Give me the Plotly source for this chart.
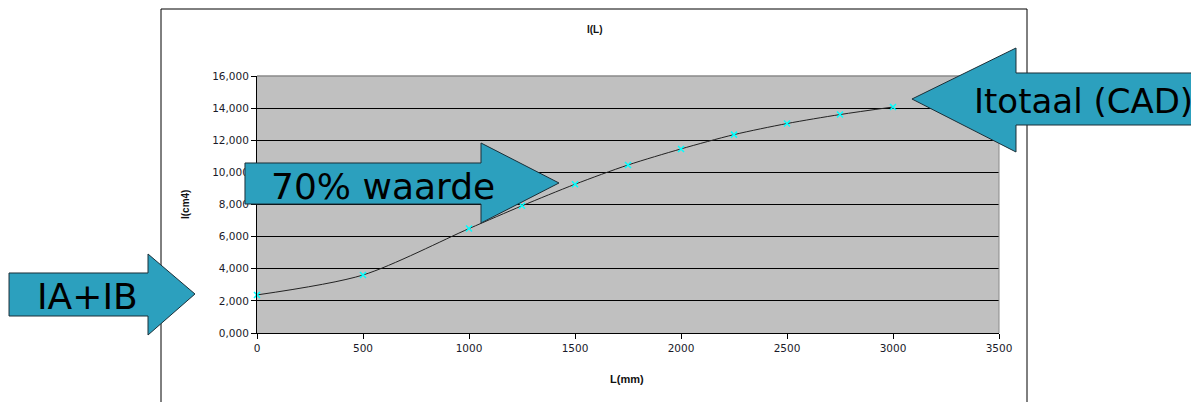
import plotly.graph_objects as go

# data
L_mm = [0, 500, 1000, 1250, 1500, 1750, 2000, 2250, 2500, 2750, 3000]
I_cm4 = [2370, 3610, 6500, 7920, 9260, 10460, 11460, 12350, 13040, 13600, 14070]
y_ticks = [0, 2000, 4000, 6000, 8000, 10000, 12000, 14000, 16000]
y_ticktext = [f"{v / 1000:.3f}".replace(".", ",") for v in y_ticks]
x_ticks = [0, 500, 1000, 1500, 2000, 2500, 3000, 3500]

# page puts the figure 8px in from the top-left corner
OFF = 8
W, H = 1199 - OFF, 402 - OFF
PL, PR, PT, PB = 257, 999, 76, 333  # plot area in window pixels


def px(x):
    return (x - PL) / (PR - PL)


def py(y):
    return (PB - y) / (PB - PT)


def arrow_path(pts):
    return "M " + " L ".join(f"{px(x):.4f},{py(y):.4f}" for x, y in pts) + " Z"


ARROW_FILL = "#2CA0BE"
ARROW_LINE = "#1b2f38"
TXT_FONT = dict(family="DejaVu Sans", size=36, color="#000000")
SMALL = dict(family="Liberation Sans", size=10, color="#111111")
TICK_FONT = dict(family="DejaVu Sans", size=10.5, color="#1a1a2a")

fig = go.Figure()

fig.add_trace(go.Scatter(
    x=L_mm, y=I_cm4,
    mode="lines+markers",
    line=dict(color="#222222", width=1, shape="spline", smoothing=0.8),
    marker=dict(symbol="x-thin", size=6, color="#00FFFF",
                line=dict(color="#00FFFF", width=1.5)),
    cliponaxis=False,
    showlegend=False,
    hoverinfo="x+y",
))

shapes = [
    # chart frame
    dict(type="rect", xref="paper", yref="paper",
         x0=px(161), x1=px(1027), y0=py(415), y1=py(9),
         line=dict(color="#000000", width=1), fillcolor="rgba(0,0,0,0)", layer="below"),
    # grey top and right border of the plot area
    dict(type="line", xref="paper", yref="paper", x0=0, x1=1, y0=1, y1=1,
         line=dict(color="#8a8a8a", width=1.5)),
    dict(type="line", xref="paper", yref="paper", x0=1, x1=1, y0=0, y1=1,
         line=dict(color="#8a8a8a", width=1)),
    # IA+IB arrow
    dict(type="path", xref="paper", yref="paper",
         path=arrow_path([(9, 273), (148, 273), (148, 254), (195, 294),
                          (148, 335), (148, 316), (9, 316)]),
         fillcolor=ARROW_FILL, line=dict(color=ARROW_LINE, width=1)),
    # 70% waarde arrow
    dict(type="path", xref="paper", yref="paper",
         path=arrow_path([(245, 163), (481, 163), (481, 143), (559, 183),
                          (481, 223), (481, 204), (245, 204)]),
         fillcolor=ARROW_FILL, line=dict(color=ARROW_LINE, width=1)),
    # Itotaal (CAD) arrow
    dict(type="path", xref="paper", yref="paper",
         path=arrow_path([(1215, 73), (1016, 73), (1016, 48), (912, 99),
                          (1016, 152), (1016, 125), (1215, 125)]),
         fillcolor=ARROW_FILL, line=dict(color=ARROW_LINE, width=1)),
]


def note(text, x, y, font, **kw):
    return dict(text=text, x=px(x), y=py(y), xref="paper", yref="paper",
                showarrow=False, font=font, xanchor=kw.pop("xanchor", "center"),
                yanchor="middle", **kw)


annotations = [
    note("IA+IB", 87, 296, TXT_FONT),
    note("70% waarde", 383, 186, TXT_FONT),
    note("Itotaal (CAD)", 972, 101, dict(TXT_FONT, size=34), xanchor="left"),
    note("<b>I(cm4)</b>", 185, 205, SMALL, textangle=-90),
    note("<b>L(mm)</b>", 627, 379, dict(SMALL, size=11)),
    note("<b>I(L)</b>", 595, 30, SMALL),
]

fig.update_layout(
    width=W, height=H,
    margin=dict(l=PL - OFF, r=1199 - PR, t=PT - OFF, b=402 - PB),
    paper_bgcolor="white",
    plot_bgcolor="#C0C0C0",
    shapes=shapes,
    annotations=annotations,
    showlegend=False,
)

fig.update_xaxes(
    range=[0, 3500], tickvals=x_ticks,
    showgrid=False, zeroline=False,
    showline=True, linecolor="#000000", linewidth=1,
    ticks="outside", ticklen=5, tickcolor="#000000",
    tickfont=TICK_FONT,
)
fig.update_yaxes(
    range=[0, 16000], tickvals=y_ticks, ticktext=y_ticktext,
    showgrid=True, gridcolor="#000000", gridwidth=1.2, zeroline=False,
    showline=True, linecolor="#000000", linewidth=1,
    ticks="outside", ticklen=5, tickcolor="#000000",
    tickfont=TICK_FONT,
)

fig.write_html("out.html")
